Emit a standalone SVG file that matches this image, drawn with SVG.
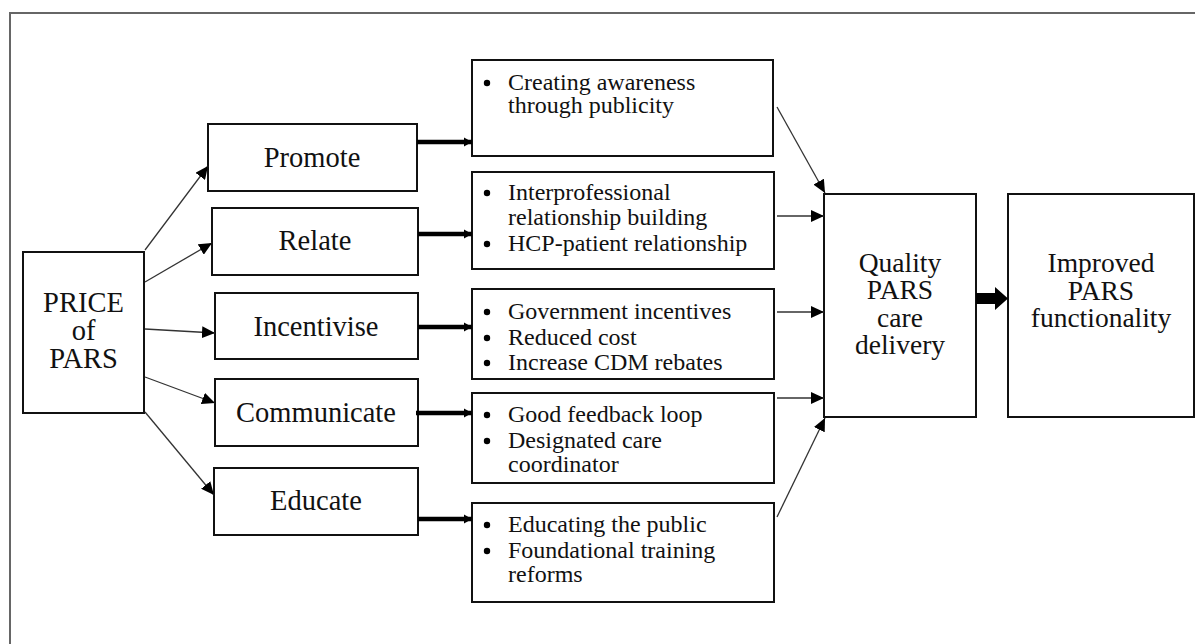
<svg xmlns="http://www.w3.org/2000/svg" width="1195" height="644" viewBox="0 0 1195 644">
<style>
.box{fill:#fff;stroke:#111;stroke-width:2}
.lbl{font-size:28.5px;fill:#111;text-anchor:middle}
.big{font-size:27.5px;fill:#111;text-anchor:middle}
.bl{font-size:24px;fill:#111}
.thin{stroke:#333;stroke-width:1.3;fill:none;marker-end:url(#ah)}
.thick{stroke:#000;stroke-width:4.5;fill:none;marker-end:url(#ahs)}
</style>
<defs>
<marker id="ah" markerUnits="userSpaceOnUse" markerWidth="14" markerHeight="12" refX="13" refY="6" orient="auto">
<path d="M0,0 L13,6 L0,12 Z" fill="#000"/>
</marker>
<marker id="ahs" markerUnits="userSpaceOnUse" markerWidth="9" markerHeight="10" refX="8" refY="5" orient="auto">
<path d="M0,0.5 L8,5 L0,9.5 Z" fill="#000"/>
</marker>
</defs>
<rect x="0" y="0" width="1195" height="644" fill="#fff"/>
<path d="M10,660 L10,13 L1200,13" fill="none" stroke="#666" stroke-width="2"/>
<g font-family="Liberation Serif, Times New Roman, DejaVu Serif, serif">
<g id="price"><rect class="box" x="23" y="252" width="121" height="161"/>
<text class="lbl" x="83.5" y="312" font-size="28">PRICE</text>
<text class="lbl" x="83.5" y="340" font-size="28">of</text>
<text class="lbl" x="83.5" y="368" font-size="28">PARS</text></g>

<g id="promote"><rect class="box" x="208" y="124" width="209" height="67"/><text class="lbl" x="312" y="167">Promote</text></g>
<g id="relate"><rect class="box" x="212" y="208" width="206" height="67"/><text class="lbl" x="315" y="250">Relate</text></g>
<g id="incentivise"><rect class="box" x="215" y="293" width="203" height="66"/><text class="lbl" x="316" y="336">Incentivise</text></g>
<g id="communicate"><rect class="box" x="215" y="379" width="203" height="67"/><text class="lbl" x="316" y="422">Communicate</text></g>
<g id="educate"><rect class="box" x="214" y="468" width="204" height="67"/><text class="lbl" x="316" y="510">Educate</text></g>

<g id="b1"><rect class="box" x="472" y="60" width="301" height="96"/>
<circle cx="487" cy="83" r="3.2"/>
<text class="bl" x="508" y="90">Creating awareness</text>
<text class="bl" x="508" y="113">through publicity</text></g>

<g id="b2"><rect class="box" x="472" y="172" width="302" height="97"/>
<circle cx="487" cy="193" r="3.2"/><circle cx="487" cy="244" r="3.2"/>
<text class="bl" x="508" y="200">Interprofessional</text>
<text class="bl" x="508" y="225">relationship building</text>
<text class="bl" x="508" y="251">HCP-patient relationship</text></g>

<g id="b3"><rect class="box" x="472" y="289" width="302" height="90"/>
<circle cx="487" cy="312" r="3.2"/><circle cx="487" cy="338" r="3.2"/><circle cx="487" cy="363" r="3.2"/>
<text class="bl" x="508" y="319">Government incentives</text>
<text class="bl" x="508" y="345">Reduced cost</text>
<text class="bl" x="508" y="370">Increase CDM rebates</text></g>

<g id="b4"><rect class="box" x="472" y="393" width="302" height="90"/>
<circle cx="487" cy="415" r="3.2"/><circle cx="487" cy="441" r="3.2"/>
<text class="bl" x="508" y="422">Good feedback loop</text>
<text class="bl" x="508" y="448">Designated care</text>
<text class="bl" x="508" y="472">coordinator</text></g>

<g id="b5"><rect class="box" x="472" y="503" width="302" height="99"/>
<circle cx="487" cy="525" r="3.2"/><circle cx="487" cy="551" r="3.2"/>
<text class="bl" x="508" y="532">Educating the public</text>
<text class="bl" x="508" y="558">Foundational training</text>
<text class="bl" x="508" y="582">reforms</text></g>

<g id="quality"><rect class="box" x="824" y="194" width="152" height="223"/>
<text class="big" x="900" y="272">Quality</text>
<text class="big" x="900" y="299">PARS</text>
<text class="big" x="900" y="327">care</text>
<text class="big" x="900" y="354">delivery</text></g>

<g id="improved"><rect class="box" x="1008" y="194" width="186" height="223"/>
<text class="big" x="1101" y="272">Improved</text>
<text class="big" x="1101" y="300">PARS</text>
<text class="big" x="1101" y="327">functionality</text></g>
</g>
<g id="connectors">
<line class="thin" x1="145" y1="250" x2="208" y2="166"/>
<line class="thin" x1="145" y1="282" x2="212" y2="243"/>
<line class="thin" x1="145" y1="329" x2="215" y2="333"/>
<line class="thin" x1="145" y1="377" x2="215" y2="403"/>
<line class="thin" x1="145" y1="412" x2="214" y2="495"/>
<line class="thick" x1="417" y1="142" x2="472" y2="142"/>
<line class="thick" x1="418" y1="234" x2="472" y2="234"/>
<line class="thick" x1="418" y1="327" x2="472" y2="327"/>
<line class="thick" x1="416" y1="413" x2="472" y2="413"/>
<line class="thick" x1="418" y1="519" x2="472" y2="519"/>
<line class="thin" x1="777" y1="107" x2="825" y2="193"/>
<line class="thin" x1="777" y1="216" x2="824" y2="216"/>
<line class="thin" x1="777" y1="312" x2="824" y2="312"/>
<line class="thin" x1="777" y1="398" x2="824" y2="398"/>
<line class="thin" x1="777" y1="517" x2="825" y2="418"/>
<polygon points="976,293 995,293 995,287 1008,298.5 995,310 995,304 976,304" fill="#000"/>
</g>
</svg>
